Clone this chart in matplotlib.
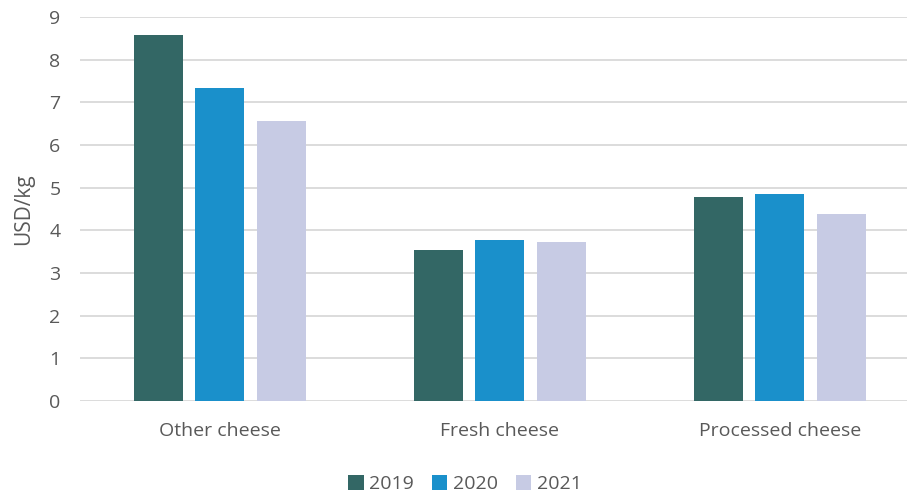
import numpy as np
import matplotlib.pyplot as plt

plt.rcParams['font.family'] = ['Open Sans', 'DejaVu Sans']

categories = ['Other cheese', 'Fresh cheese', 'Processed cheese']
years = ['2019', '2020', '2021']
v2019 = [8.58, 3.54, 4.78]
v2020 = [7.34, 3.77, 4.85]
v2021 = [6.56, 3.73, 4.38]
colors = ['#336765', '#1a90cb', '#c7cbe4']

fig = plt.figure(figsize=(9.07, 4.93), dpi=100)
ax = fig.add_axes([80 / 907, 92 / 493, 840 / 907, 384 / 493])

x = np.arange(len(categories))
w = 0.175
step = 0.221
for i, (vals, lab) in enumerate(zip([v2019, v2020, v2021], years)):
    ax.bar(x + (i - 1) * step, vals, w, color=colors[i], label=lab, zorder=3)

ax.set_xlim(-0.5, 2.5)
ax.set_ylim(0, 9)
ax.set_yticks(range(10))
ax.set_xticks(x)
ax.set_xticklabels(categories)
ax.grid(axis='y', color='#d9d9d9', linewidth=1.3, zorder=0)
for s in ax.spines.values():
    s.set_visible(False)
ax.tick_params(axis='both', length=0, labelsize=14, colors='#595959')
ax.tick_params(axis='x', pad=15)
ax.tick_params(axis='y', pad=14)
ax.set_ylabel('USD/kg', fontsize=15, color='#595959', labelpad=11)

fig.legend(loc='center', bbox_to_anchor=(465 / 907, 1 - 484 / 493), ncol=3,
           frameon=False, fontsize=14, labelcolor='#595959',
           handlelength=0.8, handleheight=0.8, handletextpad=0.3, columnspacing=0.9)

fig.savefig('out.png', dpi=100)
